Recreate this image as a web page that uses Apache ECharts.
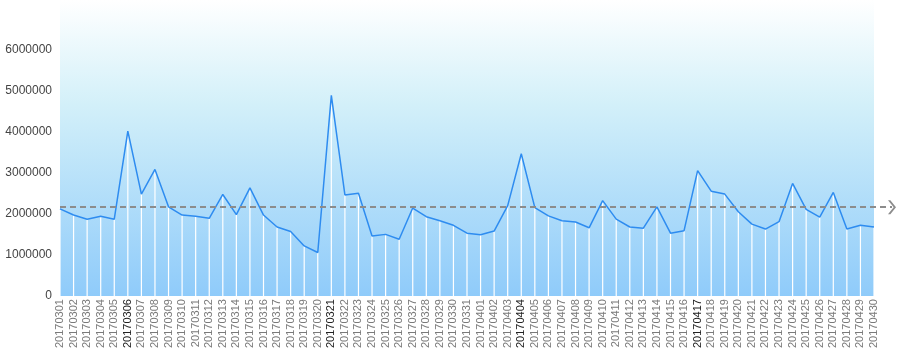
<!DOCTYPE html>
<html>
<head>
<meta charset="utf-8">
<script src="https://cdn.jsdelivr.net/npm/echarts@6/dist/echarts.min.js"></script>
<style>
  html, body { margin: 0; padding: 0; background: #fff; }
  #chart { width: 905px; height: 351px; }
</style>
</head>
<body>
<div id="chart"></div>
<script>
// dates shown on the x axis
const days = [
  "20170301", "20170302", "20170303", "20170304", "20170305", "20170306", "20170307", "20170308",
  "20170309", "20170310", "20170311", "20170312", "20170313", "20170314", "20170315", "20170316",
  "20170317", "20170318", "20170319", "20170320", "20170321", "20170322", "20170323", "20170324",
  "20170325", "20170326", "20170327", "20170328", "20170329", "20170330", "20170331", "20170401",
  "20170402", "20170403", "20170404", "20170405", "20170406", "20170407", "20170408", "20170409",
  "20170410", "20170411", "20170412", "20170413", "20170414", "20170415", "20170416", "20170417",
  "20170418", "20170419", "20170420", "20170421", "20170422", "20170423", "20170424", "20170425",
  "20170426", "20170427", "20170428", "20170429", "20170430"
];

// daily values
const values = [
  2120000, 1970000, 1870000, 1940000, 1870000, 4010000, 2480000, 3080000,
  2170000, 1970000, 1940000, 1890000, 2470000, 1980000, 2630000, 1970000,
  1680000, 1570000, 1220000, 1060000, 4880000, 2460000, 2500000, 1460000,
  1500000, 1380000, 2140000, 1930000, 1830000, 1720000, 1530000, 1490000,
  1580000, 2200000, 3460000, 2150000, 1950000, 1830000, 1800000, 1660000,
  2320000, 1870000, 1680000, 1650000, 2170000, 1530000, 1590000, 3050000,
  2550000, 2480000, 2050000, 1750000, 1630000, 1810000, 2740000, 2110000,
  1920000, 2520000, 1630000, 1720000, 1680000
];

// dashed reference line level and the dates whose labels are dark
const avgValue = 2160000;
const darkDays = ["20170306", "20170321", "20170404", "20170417"];

const chart = echarts.init(document.getElementById("chart"));

const option = {
    animation: false,
    textStyle: { fontFamily: "Liberation Sans, Arial, sans-serif" },
    grid: {
        left: 60,
        right: 31,
        top: 0,
        bottom: 54,
        show: true,
        borderWidth: 0,
        backgroundColor: new echarts.graphic.LinearGradient(0, 0, 0, 1, [
            { offset: 0, color: "#ffffff" },
            { offset: 0.35, color: "#d3f0f9" },
            { offset: 1, color: "#8fcbfa" },
        ]),
    },
    xAxis: {
        type: "category",
        data: days,
        boundaryGap: false,
        axisLine: { show: false },
        axisTick: { show: false },
        splitLine: { show: false },
        axisLabel: {
            interval: 0,
            rotate: 90,
            margin: 3,
            fontSize: 11,
            color: (val) => (darkDays.includes(val) ? "#222" : "#7a7a7a"),
        },
    },
    yAxis: {
        type: "value",
        min: 0,
        max: 7200000,
        interval: 1000000,
        axisLine: { show: false },
        axisTick: { show: false },
        splitLine: { show: false },
        axisLabel: {
            fontSize: 12,
            color: "#444",
            margin: 8,
            formatter: (v) => (v > 6000000 ? "" : v),
        },
    },
    series: [
        {
            name: "drop",
            type: "bar",
            data: values,
            barWidth: 1.2,
            silent: true,
            itemStyle: { color: "#ffffff" },
            z: 1,
        },
        {
            name: "value",
            type: "line",
            data: values,
            symbol: "none",
            silent: true,
            lineStyle: { color: "#2e8cf0", width: 1.5 },
            z: 3,
            markLine: {
                silent: true,
                data: [],
            },
        },
    ],
};

chart.setOption(option);

// place the dashed line at avgValue, running past the grid to the arrow
const py = chart.convertToPixel({ yAxisIndex: 0 }, avgValue);
chart.setOption({
    series: [
        {},
        {
            markLine: {
                silent: true,
                symbol: ["none", "path://M0,6 L7,0 L14,6 L14,8.5 L7,2.5 L0,8.5 Z"],
                symbolSize: [14, 8],
                label: { show: false },
                lineStyle: { color: "#8c8c8c", type: [6, 4], width: 2 },
                data: [[{ x: 60, y: py }, { x: 892, y: py }]],
            },
        },
    ],
});
</script>
</body>
</html>
